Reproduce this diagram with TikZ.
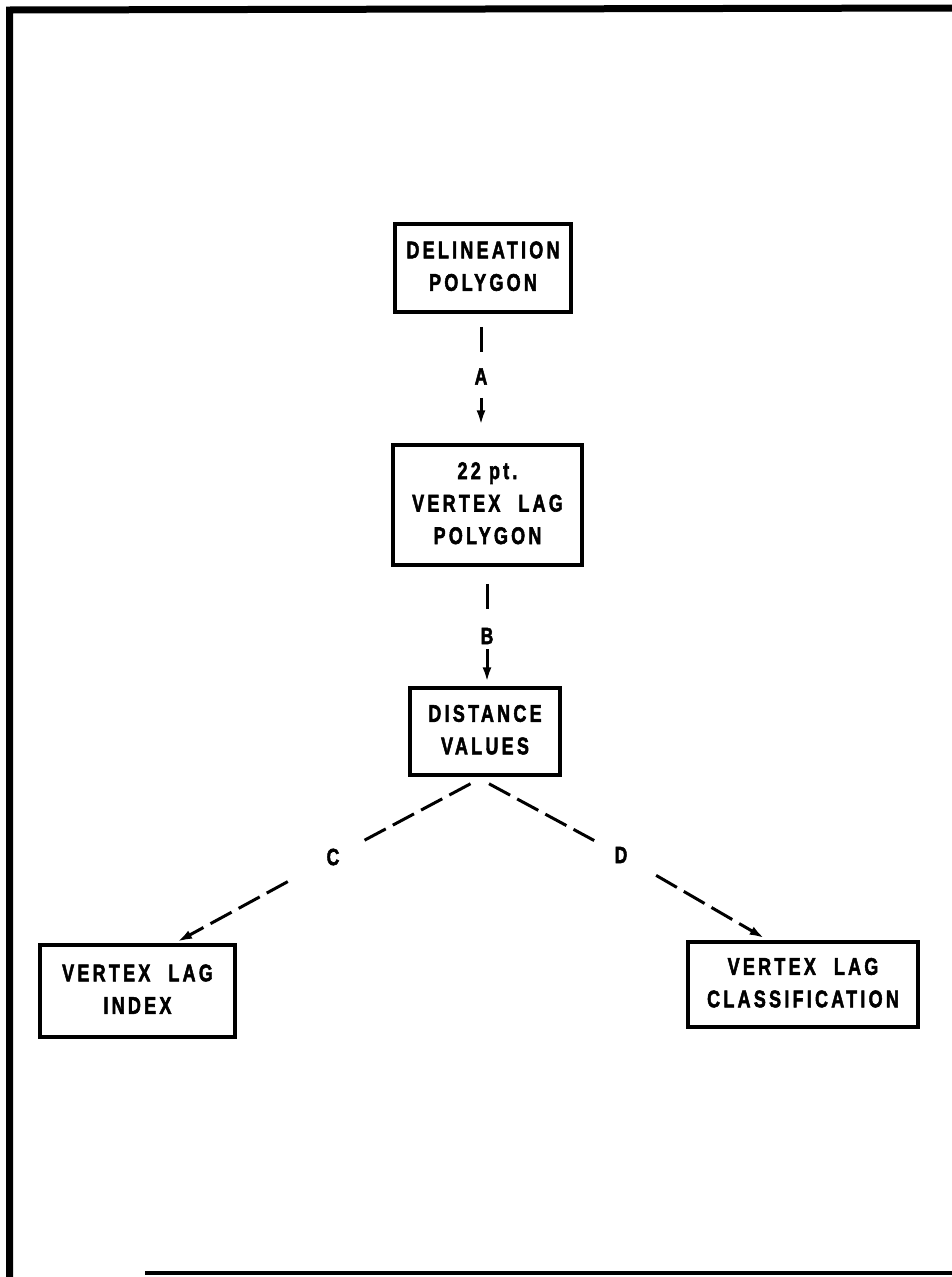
\documentclass[tikz,border=0pt]{standalone}
\usepackage{fontspec}
\usepackage{graphicx}
\setmainfont{Liberation Sans}
\newfontfamily\diagfont{Liberation Sans Bold}[LetterSpace=18, FakeBold=2.5]
\newfontfamily\tagfont{Liberation Sans Bold}[FakeBold=2.5]
\usetikzlibrary{arrows.meta}

% condensed, centred multi-line box caption
\newcommand\boxtext[1]{\scalebox{0.75}[1]{\begin{tabular}{@{}c@{}}#1\end{tabular}}}
\newcommand\wsp{\hspace*{24pt}}

\begin{document}
\begin{tikzpicture}[x=1pt,y=-1pt,
  box/.style={draw, line width=3.5pt, inner sep=0pt, align=center,
    font=\diagfont\fontsize{24}{32.5}\selectfont},
  lbl/.style={inner sep=0pt, font=\tagfont\fontsize{23.5}{28}\selectfont},
  link/.style={line width=3pt},
  dashlink/.style={line width=3pt, dash pattern=on 24pt off 8pt},
  tip/.style={-{Latex[length=15pt,width=9pt]}}]

\useasboundingbox (0,0) rectangle (952,1277);

% page frame
\draw[line width=7pt, line join=miter] (9.5,1290) -- (9.5,10) -- (960,8);
\draw[line width=4pt] (145,1273) -- (960,1273);

% boxes
\node[box, minimum width=176pt, minimum height=88pt] (b1) at (483,268)
  {\boxtext{DELINEATION\\POLYGON}};
\node[box, minimum width=189pt, minimum height=120pt] (b2) at (487.5,505)
  {\boxtext{22 pt.\\VERTEX\wsp LAG\\POLYGON}};
\node[box, minimum width=150pt, minimum height=87pt] (b3) at (485,731.5)
  {\boxtext{DISTANCE\\VALUES}};
\node[box, minimum width=195pt, minimum height=92pt] (b4) at (137.5,991)
  {\boxtext{VERTEX\wsp LAG\\INDEX}};
\node[box, minimum width=230pt, minimum height=85pt] (b5) at (803,984.5)
  {\boxtext{VERTEX\wsp LAG\\CLASSIFICATION}};

% connector labels
\node[lbl] (A) at (481,376.5) {\scalebox{0.75}[1]{A}};
\node[lbl] (B) at (487,636) {\scalebox{0.75}[1]{B}};
\node[lbl] (C) at (333,857) {\scalebox{0.75}[1]{C}};
\node[lbl] (D) at (621,855) {\scalebox{0.75}[1]{D}};

% A and B: vertical connectors broken by their labels
\draw[link, shorten <=13pt, shorten >=16pt] (b1.south -| A) -- (A);
\draw[link, tip, shorten <=13pt, shorten >=18pt] (A) -- (b2.north -| A);
\draw[link, shorten <=17pt, shorten >=19pt] (b2.south -| B) -- (B);
\draw[link, tip, shorten <=5pt, shorten >=4pt] (B) -- (b3.north -| B);

% C and D: dashed diagonals
\draw[dashlink, shorten >=27pt] ([xshift=-14.5pt,yshift=-7pt]b3.south) -- (C);
\draw[dashlink, tip, shorten <=44pt, shorten >=3pt] (C) -- ([xshift=37pt]b4.north);
\draw[dashlink, shorten >=23pt] ([xshift=4pt,yshift=-7pt]b3.south) -- (D);
\draw[dashlink, tip, shorten <=33pt, shorten >=4pt] (D) -- ([xshift=-35pt]b5.north);

\end{tikzpicture}
\end{document}
